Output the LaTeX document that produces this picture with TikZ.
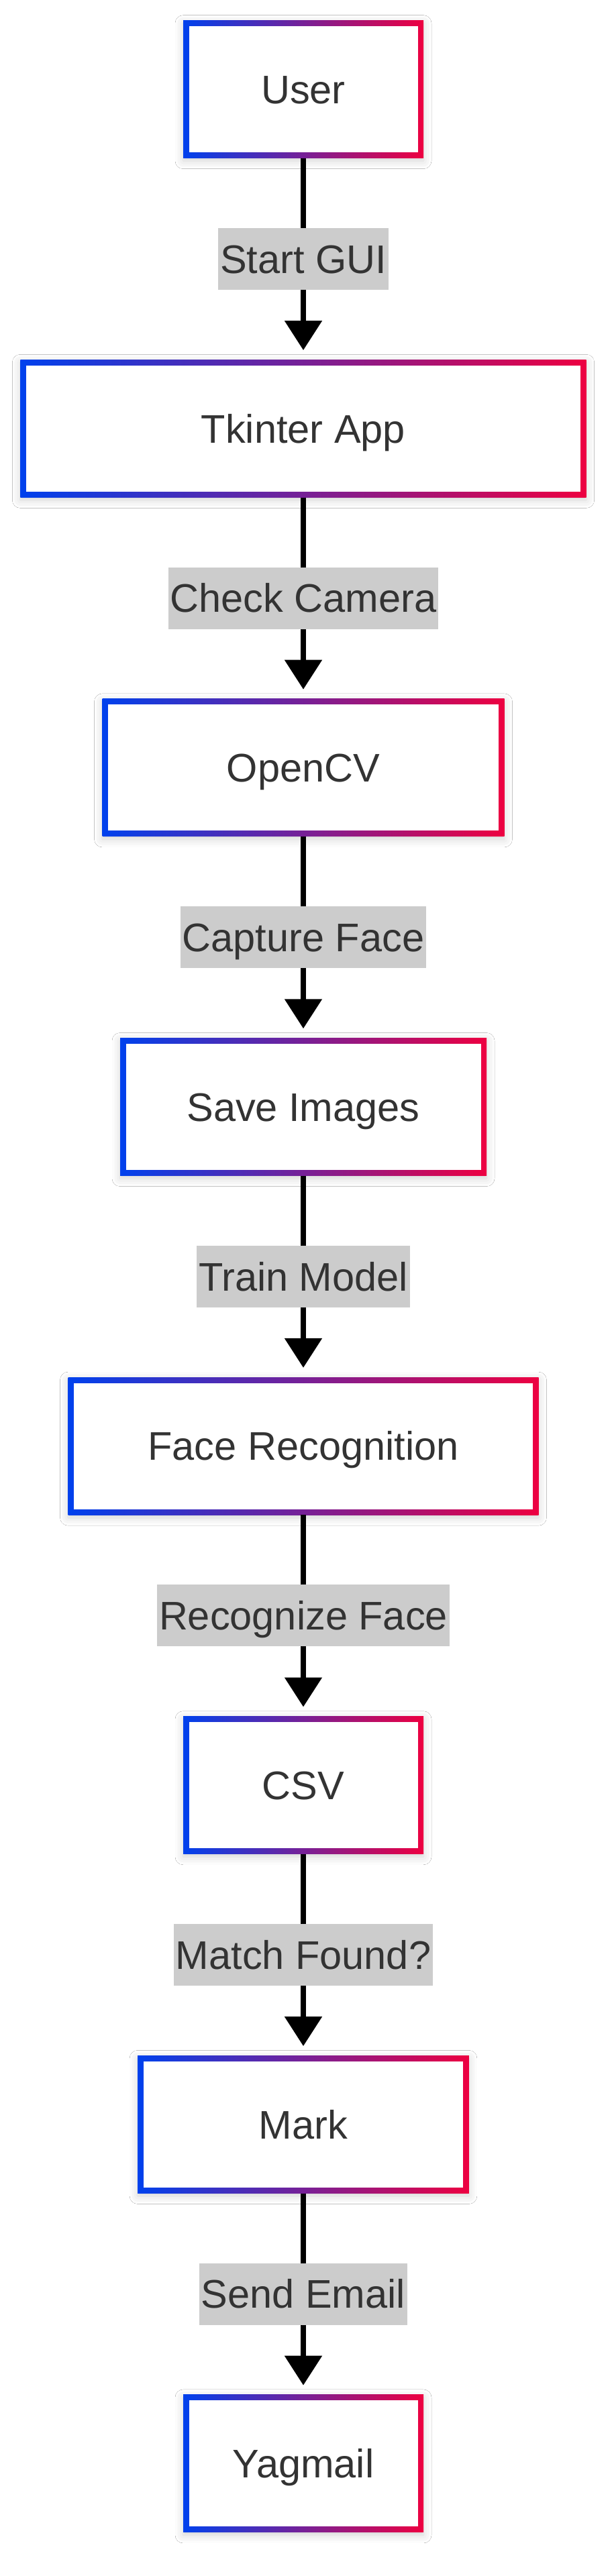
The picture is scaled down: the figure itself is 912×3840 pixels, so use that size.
\documentclass[tikz,border=0pt]{standalone}
\usepackage{fontspec}
\setmainfont{Liberation Sans}
\usetikzlibrary{arrows.meta,shadows.blur}
\definecolor{gblue}{RGB}{0,65,237}
\definecolor{gred}{RGB}{237,0,65}
\definecolor{txt}{HTML}{333333}
\definecolor{lblbg}{HTML}{CCCCCC}
\tikzset{
  gbox/.style={shape=rectangle, inner sep=0pt, minimum height=205pt,
    left color=gblue, right color=gred, draw=none,
    blur shadow={shadow xshift=0pt, shadow yshift=-4pt, shadow blur radius=12pt, shadow opacity=18},
    path picture={\fill[white] ([xshift=8.5pt,yshift=-8.5pt]path picture bounding box.north west) rectangle ([xshift=-8.5pt,yshift=8.5pt]path picture bounding box.south east);},
    font=\fontsize{59.5}{71}\selectfont, text=txt, text height=42.6pt, text depth=0pt},
  lbl/.style={fill=lblbg, inner xsep=3pt, inner ysep=0pt, minimum height=92pt,
    font=\fontsize{59.5}{71}\selectfont, text=txt, text height=42.6pt, text depth=0pt},
  flow/.style={draw=black, line width=8.5pt, shorten >=14pt,
    -{Triangle[length=44pt,width=54pt]}}
}
\begin{document}
\begin{tikzpicture}
\fill[white] (0,0) rectangle (912pt,-3840pt);
\useasboundingbox (0,0) rectangle (912pt,-3840pt);
\node[gbox, minimum width=358pt]   (user) at (452pt,-133.2pt)  {User};
\node[gbox, minimum width=843.4pt] (tk)   at (452pt,-638.8pt)  {Tkinter App};
\node[gbox, minimum width=599pt]   (cv)   at (452pt,-1144.4pt) {OpenCV};
\node[gbox, minimum width=546pt]   (save) at (452pt,-1650pt)   {Save Images};
\node[gbox, minimum width=701pt]   (face) at (452pt,-2155.6pt) {Face Recognition};
\node[gbox, minimum width=358pt]   (csv)  at (452pt,-2661.2pt) {CSV};
\node[gbox, minimum width=493.7pt] (mark) at (452pt,-3166.8pt) {Mark};
\node[gbox, minimum width=358pt]   (yag)  at (452pt,-3672.4pt) {Yagmail};
\draw[flow] (user.south) -- node[lbl] {Start GUI} (tk.north);
\draw[flow] (tk.south) -- node[lbl] {Check Camera} (cv.north);
\draw[flow] (cv.south) -- node[lbl] {Capture Face} (save.north);
\draw[flow] (save.south) -- node[lbl] {Train Model} (face.north);
\draw[flow] (face.south) -- node[lbl] {Recognize Face} (csv.north);
\draw[flow] (csv.south) -- node[lbl] {Match Found?} (mark.north);
\draw[flow] (mark.south) -- node[lbl] {Send Email} (yag.north);
\end{tikzpicture}
\end{document}
